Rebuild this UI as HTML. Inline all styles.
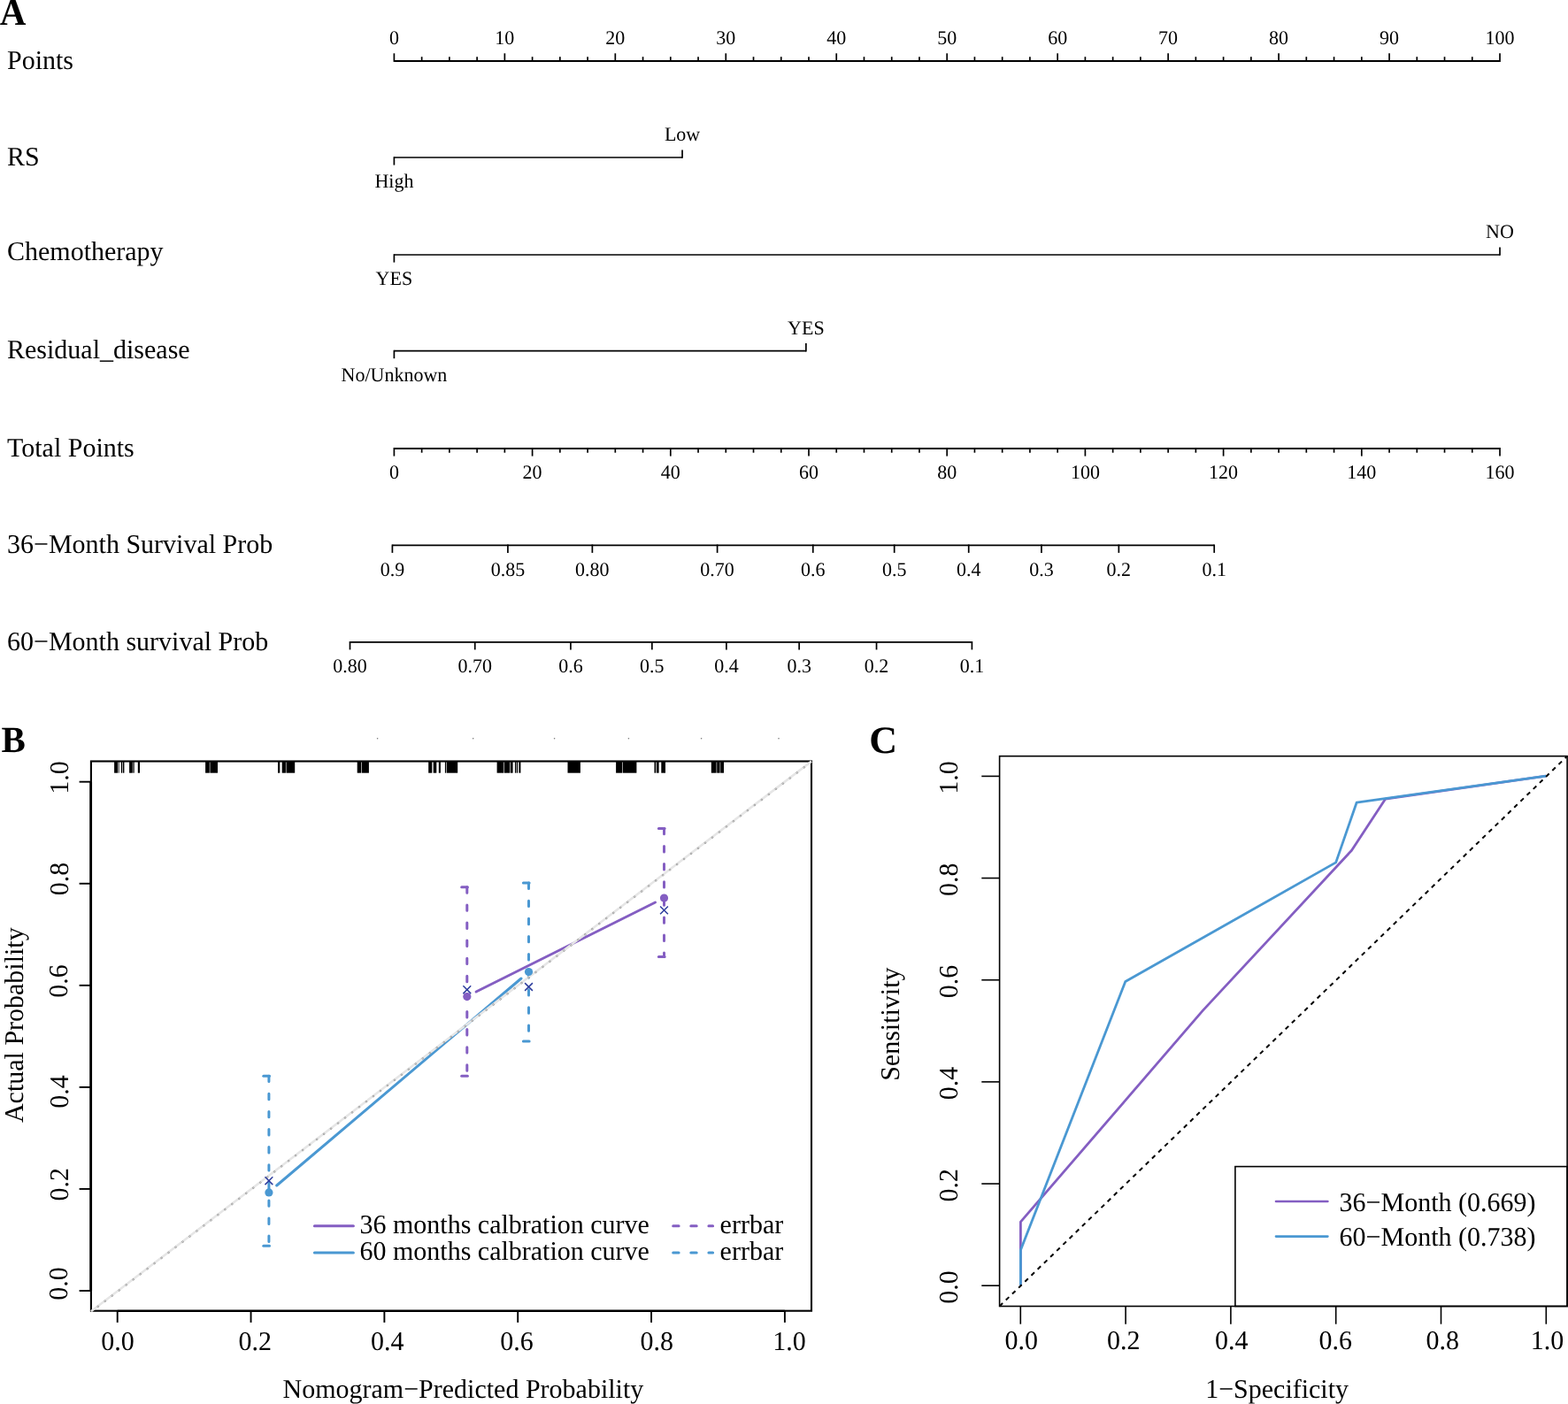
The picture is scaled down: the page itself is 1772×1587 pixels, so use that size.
<!DOCTYPE html>
<html lang="en">
<head>
<meta charset="utf-8">
<title>Nomogram, calibration curve and ROC curve</title>
<style>
html,body{margin:0;padding:0;background:#ffffff;}
body{width:1772px;height:1587px;overflow:hidden;}
svg{display:block;}
svg text{font-family:"Liberation Serif","Times New Roman",Times,serif;fill:#000;text-rendering:geometricPrecision;}
</style>
</head>
<body>
<svg width="1772" height="1587" viewBox="0 0 1772 1587">
<rect x="0" y="0" width="1772" height="1587" fill="#ffffff"/>
<g id="panelA">
<text transform="translate(-0.20 27.90) scale(1.000 1.040)" font-size="41" font-weight="bold" >A</text>
<line x1="445.40" y1="68.90" x2="1695.00" y2="68.90" stroke="#000" stroke-width="2.0" />
<line x1="445.40" y1="69.90" x2="445.40" y2="60.30" stroke="#000" stroke-width="1.7" />
<text transform="translate(445.40 50.20) scale(1.000 1.012)" font-size="22" text-anchor="middle" >0</text>
<line x1="476.64" y1="69.90" x2="476.64" y2="64.20" stroke="#000" stroke-width="1.7" />
<line x1="507.88" y1="69.90" x2="507.88" y2="64.20" stroke="#000" stroke-width="1.7" />
<line x1="539.12" y1="69.90" x2="539.12" y2="64.20" stroke="#000" stroke-width="1.7" />
<line x1="570.36" y1="69.90" x2="570.36" y2="60.30" stroke="#000" stroke-width="1.7" />
<text transform="translate(570.36 50.20) scale(1.000 1.012)" font-size="22" text-anchor="middle" >10</text>
<line x1="601.60" y1="69.90" x2="601.60" y2="64.20" stroke="#000" stroke-width="1.7" />
<line x1="632.84" y1="69.90" x2="632.84" y2="64.20" stroke="#000" stroke-width="1.7" />
<line x1="664.08" y1="69.90" x2="664.08" y2="64.20" stroke="#000" stroke-width="1.7" />
<line x1="695.32" y1="69.90" x2="695.32" y2="60.30" stroke="#000" stroke-width="1.7" />
<text transform="translate(695.32 50.20) scale(1.000 1.012)" font-size="22" text-anchor="middle" >20</text>
<line x1="726.56" y1="69.90" x2="726.56" y2="64.20" stroke="#000" stroke-width="1.7" />
<line x1="757.80" y1="69.90" x2="757.80" y2="64.20" stroke="#000" stroke-width="1.7" />
<line x1="789.04" y1="69.90" x2="789.04" y2="64.20" stroke="#000" stroke-width="1.7" />
<line x1="820.28" y1="69.90" x2="820.28" y2="60.30" stroke="#000" stroke-width="1.7" />
<text transform="translate(820.28 50.20) scale(1.000 1.012)" font-size="22" text-anchor="middle" >30</text>
<line x1="851.52" y1="69.90" x2="851.52" y2="64.20" stroke="#000" stroke-width="1.7" />
<line x1="882.76" y1="69.90" x2="882.76" y2="64.20" stroke="#000" stroke-width="1.7" />
<line x1="914.00" y1="69.90" x2="914.00" y2="64.20" stroke="#000" stroke-width="1.7" />
<line x1="945.24" y1="69.90" x2="945.24" y2="60.30" stroke="#000" stroke-width="1.7" />
<text transform="translate(945.24 50.20) scale(1.000 1.012)" font-size="22" text-anchor="middle" >40</text>
<line x1="976.48" y1="69.90" x2="976.48" y2="64.20" stroke="#000" stroke-width="1.7" />
<line x1="1007.72" y1="69.90" x2="1007.72" y2="64.20" stroke="#000" stroke-width="1.7" />
<line x1="1038.96" y1="69.90" x2="1038.96" y2="64.20" stroke="#000" stroke-width="1.7" />
<line x1="1070.20" y1="69.90" x2="1070.20" y2="60.30" stroke="#000" stroke-width="1.7" />
<text transform="translate(1070.20 50.20) scale(1.000 1.012)" font-size="22" text-anchor="middle" >50</text>
<line x1="1101.44" y1="69.90" x2="1101.44" y2="64.20" stroke="#000" stroke-width="1.7" />
<line x1="1132.68" y1="69.90" x2="1132.68" y2="64.20" stroke="#000" stroke-width="1.7" />
<line x1="1163.92" y1="69.90" x2="1163.92" y2="64.20" stroke="#000" stroke-width="1.7" />
<line x1="1195.16" y1="69.90" x2="1195.16" y2="60.30" stroke="#000" stroke-width="1.7" />
<text transform="translate(1195.16 50.20) scale(1.000 1.012)" font-size="22" text-anchor="middle" >60</text>
<line x1="1226.40" y1="69.90" x2="1226.40" y2="64.20" stroke="#000" stroke-width="1.7" />
<line x1="1257.64" y1="69.90" x2="1257.64" y2="64.20" stroke="#000" stroke-width="1.7" />
<line x1="1288.88" y1="69.90" x2="1288.88" y2="64.20" stroke="#000" stroke-width="1.7" />
<line x1="1320.12" y1="69.90" x2="1320.12" y2="60.30" stroke="#000" stroke-width="1.7" />
<text transform="translate(1320.12 50.20) scale(1.000 1.012)" font-size="22" text-anchor="middle" >70</text>
<line x1="1351.36" y1="69.90" x2="1351.36" y2="64.20" stroke="#000" stroke-width="1.7" />
<line x1="1382.60" y1="69.90" x2="1382.60" y2="64.20" stroke="#000" stroke-width="1.7" />
<line x1="1413.84" y1="69.90" x2="1413.84" y2="64.20" stroke="#000" stroke-width="1.7" />
<line x1="1445.08" y1="69.90" x2="1445.08" y2="60.30" stroke="#000" stroke-width="1.7" />
<text transform="translate(1445.08 50.20) scale(1.000 1.012)" font-size="22" text-anchor="middle" >80</text>
<line x1="1476.32" y1="69.90" x2="1476.32" y2="64.20" stroke="#000" stroke-width="1.7" />
<line x1="1507.56" y1="69.90" x2="1507.56" y2="64.20" stroke="#000" stroke-width="1.7" />
<line x1="1538.80" y1="69.90" x2="1538.80" y2="64.20" stroke="#000" stroke-width="1.7" />
<line x1="1570.04" y1="69.90" x2="1570.04" y2="60.30" stroke="#000" stroke-width="1.7" />
<text transform="translate(1570.04 50.20) scale(1.000 1.012)" font-size="22" text-anchor="middle" >90</text>
<line x1="1601.28" y1="69.90" x2="1601.28" y2="64.20" stroke="#000" stroke-width="1.7" />
<line x1="1632.52" y1="69.90" x2="1632.52" y2="64.20" stroke="#000" stroke-width="1.7" />
<line x1="1663.76" y1="69.90" x2="1663.76" y2="64.20" stroke="#000" stroke-width="1.7" />
<line x1="1695.00" y1="69.90" x2="1695.00" y2="60.30" stroke="#000" stroke-width="1.7" />
<text transform="translate(1695.00 50.20) scale(1.000 1.012)" font-size="22" text-anchor="middle" >100</text>
<text transform="translate(8.00 78.00) scale(1.000 1.012)" font-size="30" >Points</text>
<line x1="445.40" y1="178.00" x2="771.05" y2="178.00" stroke="#000" stroke-width="1.7" />
<line x1="445.40" y1="177.20" x2="445.40" y2="186.60" stroke="#000" stroke-width="1.7" />
<line x1="771.05" y1="178.80" x2="771.05" y2="169.40" stroke="#000" stroke-width="1.7" />
<text transform="translate(445.40 212.20) scale(1.000 1.012)" font-size="22" text-anchor="middle" >High</text>
<text transform="translate(771.05 159.30) scale(1.000 1.012)" font-size="22" text-anchor="middle" >Low</text>
<text transform="translate(8.00 187.20) scale(1.000 1.012)" font-size="30" >RS</text>
<line x1="445.40" y1="288.00" x2="1695.00" y2="288.00" stroke="#000" stroke-width="1.7" />
<line x1="445.40" y1="287.20" x2="445.40" y2="296.60" stroke="#000" stroke-width="1.7" />
<line x1="1695.00" y1="288.80" x2="1695.00" y2="279.40" stroke="#000" stroke-width="1.7" />
<text transform="translate(445.40 322.20) scale(1.000 1.012)" font-size="22" text-anchor="middle" >YES</text>
<text transform="translate(1695.00 269.30) scale(1.000 1.012)" font-size="22" text-anchor="middle" >NO</text>
<text transform="translate(8.00 294.30) scale(1.000 1.012)" font-size="30" >Chemotherapy</text>
<line x1="445.40" y1="396.60" x2="910.88" y2="396.60" stroke="#000" stroke-width="1.7" />
<line x1="445.40" y1="395.80" x2="445.40" y2="405.20" stroke="#000" stroke-width="1.7" />
<line x1="910.88" y1="397.40" x2="910.88" y2="388.00" stroke="#000" stroke-width="1.7" />
<text transform="translate(445.40 431.40) scale(1.000 1.012)" font-size="22" text-anchor="middle" >No/Unknown</text>
<text transform="translate(910.88 377.90) scale(1.000 1.012)" font-size="22" text-anchor="middle" >YES</text>
<text transform="translate(8.00 405.30) scale(1.000 1.012)" font-size="30" >Residual_disease</text>
<line x1="445.40" y1="507.00" x2="1695.00" y2="507.00" stroke="#000" stroke-width="2.0" />
<line x1="445.40" y1="506.00" x2="445.40" y2="515.60" stroke="#000" stroke-width="1.7" />
<text transform="translate(445.40 541.20) scale(1.000 1.012)" font-size="22" text-anchor="middle" >0</text>
<line x1="476.64" y1="506.00" x2="476.64" y2="511.70" stroke="#000" stroke-width="1.7" />
<line x1="507.88" y1="506.00" x2="507.88" y2="511.70" stroke="#000" stroke-width="1.7" />
<line x1="539.12" y1="506.00" x2="539.12" y2="511.70" stroke="#000" stroke-width="1.7" />
<line x1="570.36" y1="506.00" x2="570.36" y2="511.70" stroke="#000" stroke-width="1.7" />
<line x1="601.60" y1="506.00" x2="601.60" y2="515.60" stroke="#000" stroke-width="1.7" />
<text transform="translate(601.60 541.20) scale(1.000 1.012)" font-size="22" text-anchor="middle" >20</text>
<line x1="632.84" y1="506.00" x2="632.84" y2="511.70" stroke="#000" stroke-width="1.7" />
<line x1="664.08" y1="506.00" x2="664.08" y2="511.70" stroke="#000" stroke-width="1.7" />
<line x1="695.32" y1="506.00" x2="695.32" y2="511.70" stroke="#000" stroke-width="1.7" />
<line x1="726.56" y1="506.00" x2="726.56" y2="511.70" stroke="#000" stroke-width="1.7" />
<line x1="757.80" y1="506.00" x2="757.80" y2="515.60" stroke="#000" stroke-width="1.7" />
<text transform="translate(757.80 541.20) scale(1.000 1.012)" font-size="22" text-anchor="middle" >40</text>
<line x1="789.04" y1="506.00" x2="789.04" y2="511.70" stroke="#000" stroke-width="1.7" />
<line x1="820.28" y1="506.00" x2="820.28" y2="511.70" stroke="#000" stroke-width="1.7" />
<line x1="851.52" y1="506.00" x2="851.52" y2="511.70" stroke="#000" stroke-width="1.7" />
<line x1="882.76" y1="506.00" x2="882.76" y2="511.70" stroke="#000" stroke-width="1.7" />
<line x1="914.00" y1="506.00" x2="914.00" y2="515.60" stroke="#000" stroke-width="1.7" />
<text transform="translate(914.00 541.20) scale(1.000 1.012)" font-size="22" text-anchor="middle" >60</text>
<line x1="945.24" y1="506.00" x2="945.24" y2="511.70" stroke="#000" stroke-width="1.7" />
<line x1="976.48" y1="506.00" x2="976.48" y2="511.70" stroke="#000" stroke-width="1.7" />
<line x1="1007.72" y1="506.00" x2="1007.72" y2="511.70" stroke="#000" stroke-width="1.7" />
<line x1="1038.96" y1="506.00" x2="1038.96" y2="511.70" stroke="#000" stroke-width="1.7" />
<line x1="1070.20" y1="506.00" x2="1070.20" y2="515.60" stroke="#000" stroke-width="1.7" />
<text transform="translate(1070.20 541.20) scale(1.000 1.012)" font-size="22" text-anchor="middle" >80</text>
<line x1="1101.44" y1="506.00" x2="1101.44" y2="511.70" stroke="#000" stroke-width="1.7" />
<line x1="1132.68" y1="506.00" x2="1132.68" y2="511.70" stroke="#000" stroke-width="1.7" />
<line x1="1163.92" y1="506.00" x2="1163.92" y2="511.70" stroke="#000" stroke-width="1.7" />
<line x1="1195.16" y1="506.00" x2="1195.16" y2="511.70" stroke="#000" stroke-width="1.7" />
<line x1="1226.40" y1="506.00" x2="1226.40" y2="515.60" stroke="#000" stroke-width="1.7" />
<text transform="translate(1226.40 541.20) scale(1.000 1.012)" font-size="22" text-anchor="middle" >100</text>
<line x1="1257.64" y1="506.00" x2="1257.64" y2="511.70" stroke="#000" stroke-width="1.7" />
<line x1="1288.88" y1="506.00" x2="1288.88" y2="511.70" stroke="#000" stroke-width="1.7" />
<line x1="1320.12" y1="506.00" x2="1320.12" y2="511.70" stroke="#000" stroke-width="1.7" />
<line x1="1351.36" y1="506.00" x2="1351.36" y2="511.70" stroke="#000" stroke-width="1.7" />
<line x1="1382.60" y1="506.00" x2="1382.60" y2="515.60" stroke="#000" stroke-width="1.7" />
<text transform="translate(1382.60 541.20) scale(1.000 1.012)" font-size="22" text-anchor="middle" >120</text>
<line x1="1413.84" y1="506.00" x2="1413.84" y2="511.70" stroke="#000" stroke-width="1.7" />
<line x1="1445.08" y1="506.00" x2="1445.08" y2="511.70" stroke="#000" stroke-width="1.7" />
<line x1="1476.32" y1="506.00" x2="1476.32" y2="511.70" stroke="#000" stroke-width="1.7" />
<line x1="1507.56" y1="506.00" x2="1507.56" y2="511.70" stroke="#000" stroke-width="1.7" />
<line x1="1538.80" y1="506.00" x2="1538.80" y2="515.60" stroke="#000" stroke-width="1.7" />
<text transform="translate(1538.80 541.20) scale(1.000 1.012)" font-size="22" text-anchor="middle" >140</text>
<line x1="1570.04" y1="506.00" x2="1570.04" y2="511.70" stroke="#000" stroke-width="1.7" />
<line x1="1601.28" y1="506.00" x2="1601.28" y2="511.70" stroke="#000" stroke-width="1.7" />
<line x1="1632.52" y1="506.00" x2="1632.52" y2="511.70" stroke="#000" stroke-width="1.7" />
<line x1="1663.76" y1="506.00" x2="1663.76" y2="511.70" stroke="#000" stroke-width="1.7" />
<line x1="1695.00" y1="506.00" x2="1695.00" y2="515.60" stroke="#000" stroke-width="1.7" />
<text transform="translate(1695.00 541.20) scale(1.000 1.012)" font-size="22" text-anchor="middle" >160</text>
<text transform="translate(8.00 515.80) scale(1.000 1.012)" font-size="30" >Total Points</text>
<line x1="443.40" y1="616.30" x2="1372.20" y2="616.30" stroke="#000" stroke-width="1.7" />
<line x1="443.40" y1="615.50" x2="443.40" y2="624.90" stroke="#000" stroke-width="1.7" />
<text transform="translate(443.40 650.50) scale(1.000 1.012)" font-size="22" text-anchor="middle" >0.9</text>
<line x1="573.91" y1="615.50" x2="573.91" y2="624.90" stroke="#000" stroke-width="1.7" />
<text transform="translate(573.91 650.50) scale(1.000 1.012)" font-size="22" text-anchor="middle" >0.85</text>
<line x1="669.37" y1="615.50" x2="669.37" y2="624.90" stroke="#000" stroke-width="1.7" />
<text transform="translate(669.37 650.50) scale(1.000 1.012)" font-size="22" text-anchor="middle" >0.80</text>
<line x1="810.61" y1="615.50" x2="810.61" y2="624.90" stroke="#000" stroke-width="1.7" />
<text transform="translate(810.61 650.50) scale(1.000 1.012)" font-size="22" text-anchor="middle" >0.70</text>
<line x1="918.77" y1="615.50" x2="918.77" y2="624.90" stroke="#000" stroke-width="1.7" />
<text transform="translate(918.77 650.50) scale(1.000 1.012)" font-size="22" text-anchor="middle" >0.6</text>
<line x1="1010.68" y1="615.50" x2="1010.68" y2="624.90" stroke="#000" stroke-width="1.7" />
<text transform="translate(1010.68 650.50) scale(1.000 1.012)" font-size="22" text-anchor="middle" >0.5</text>
<line x1="1094.72" y1="615.50" x2="1094.72" y2="624.90" stroke="#000" stroke-width="1.7" />
<text transform="translate(1094.72 650.50) scale(1.000 1.012)" font-size="22" text-anchor="middle" >0.4</text>
<line x1="1176.95" y1="615.50" x2="1176.95" y2="624.90" stroke="#000" stroke-width="1.7" />
<text transform="translate(1176.95 650.50) scale(1.000 1.012)" font-size="22" text-anchor="middle" >0.3</text>
<line x1="1264.35" y1="615.50" x2="1264.35" y2="624.90" stroke="#000" stroke-width="1.7" />
<text transform="translate(1264.35 650.50) scale(1.000 1.012)" font-size="22" text-anchor="middle" >0.2</text>
<line x1="1372.20" y1="615.50" x2="1372.20" y2="624.90" stroke="#000" stroke-width="1.7" />
<text transform="translate(1372.20 650.50) scale(1.000 1.012)" font-size="22" text-anchor="middle" >0.1</text>
<text transform="translate(8.00 625.00) scale(1.000 1.012)" font-size="30" >36−Month Survival Prob</text>
<line x1="395.50" y1="725.80" x2="1098.40" y2="725.80" stroke="#000" stroke-width="1.7" />
<line x1="395.50" y1="725.00" x2="395.50" y2="734.40" stroke="#000" stroke-width="1.7" />
<text transform="translate(395.50 760.40) scale(1.000 1.012)" font-size="22" text-anchor="middle" >0.80</text>
<line x1="536.75" y1="725.00" x2="536.75" y2="734.40" stroke="#000" stroke-width="1.7" />
<text transform="translate(536.75 760.40) scale(1.000 1.012)" font-size="22" text-anchor="middle" >0.70</text>
<line x1="644.92" y1="725.00" x2="644.92" y2="734.40" stroke="#000" stroke-width="1.7" />
<text transform="translate(644.92 760.40) scale(1.000 1.012)" font-size="22" text-anchor="middle" >0.6</text>
<line x1="736.84" y1="725.00" x2="736.84" y2="734.40" stroke="#000" stroke-width="1.7" />
<text transform="translate(736.84 760.40) scale(1.000 1.012)" font-size="22" text-anchor="middle" >0.5</text>
<line x1="820.89" y1="725.00" x2="820.89" y2="734.40" stroke="#000" stroke-width="1.7" />
<text transform="translate(820.89 760.40) scale(1.000 1.012)" font-size="22" text-anchor="middle" >0.4</text>
<line x1="903.13" y1="725.00" x2="903.13" y2="734.40" stroke="#000" stroke-width="1.7" />
<text transform="translate(903.13 760.40) scale(1.000 1.012)" font-size="22" text-anchor="middle" >0.3</text>
<line x1="990.54" y1="725.00" x2="990.54" y2="734.40" stroke="#000" stroke-width="1.7" />
<text transform="translate(990.54 760.40) scale(1.000 1.012)" font-size="22" text-anchor="middle" >0.2</text>
<line x1="1098.40" y1="725.00" x2="1098.40" y2="734.40" stroke="#000" stroke-width="1.7" />
<text transform="translate(1098.40 760.40) scale(1.000 1.012)" font-size="22" text-anchor="middle" >0.1</text>
<text transform="translate(8.00 735.00) scale(1.000 1.012)" font-size="30" >60−Month survival Prob</text>
</g>
<g id="panelB">
<text transform="translate(1.50 849.90) scale(1.000 1.012)" font-size="41" font-weight="bold" >B</text>
<circle cx="426.6" cy="834.8" r="0.8" fill="#777"/>
<circle cx="534.7" cy="834.8" r="0.8" fill="#777"/>
<circle cx="626.6" cy="834.8" r="0.8" fill="#777"/>
<circle cx="710.4" cy="834.8" r="0.8" fill="#777"/>
<circle cx="792.6" cy="834.8" r="0.8" fill="#777"/>
<circle cx="880.0" cy="834.8" r="0.8" fill="#777"/>
<rect x="129.10" y="860.50" width="4.10" height="13.20" fill="#000"/>
<rect x="133.80" y="860.50" width="0.80" height="13.20" fill="#000"/>
<rect x="136.80" y="860.50" width="1.40" height="13.20" fill="#000"/>
<rect x="138.90" y="860.50" width="1.50" height="13.20" fill="#000"/>
<rect x="146.10" y="860.50" width="3.70" height="13.20" fill="#000"/>
<rect x="150.40" y="860.50" width="1.30" height="13.20" fill="#000"/>
<rect x="155.80" y="860.50" width="2.20" height="13.20" fill="#000"/>
<rect x="232.10" y="860.50" width="4.70" height="13.20" fill="#000"/>
<rect x="237.40" y="860.50" width="8.60" height="13.20" fill="#000"/>
<rect x="314.00" y="860.50" width="2.30" height="13.20" fill="#000"/>
<rect x="318.70" y="860.50" width="4.20" height="13.20" fill="#000"/>
<rect x="323.50" y="860.50" width="9.70" height="13.20" fill="#000"/>
<rect x="403.70" y="860.50" width="4.40" height="13.20" fill="#000"/>
<rect x="408.70" y="860.50" width="8.20" height="13.20" fill="#000"/>
<rect x="484.20" y="860.50" width="4.10" height="13.20" fill="#000"/>
<rect x="489.70" y="860.50" width="3.60" height="13.20" fill="#000"/>
<rect x="495.80" y="860.50" width="2.10" height="13.20" fill="#000"/>
<rect x="502.90" y="860.50" width="1.40" height="13.20" fill="#000"/>
<rect x="504.90" y="860.50" width="12.30" height="13.20" fill="#000"/>
<rect x="561.60" y="860.50" width="7.60" height="13.20" fill="#000"/>
<rect x="569.80" y="860.50" width="6.40" height="13.20" fill="#000"/>
<rect x="576.80" y="860.50" width="2.80" height="13.20" fill="#000"/>
<rect x="581.90" y="860.50" width="1.30" height="13.20" fill="#000"/>
<rect x="583.80" y="860.50" width="1.30" height="13.20" fill="#000"/>
<rect x="586.40" y="860.50" width="2.00" height="13.20" fill="#000"/>
<rect x="641.50" y="860.50" width="14.40" height="13.20" fill="#000"/>
<rect x="696.10" y="860.50" width="6.90" height="13.20" fill="#000"/>
<rect x="703.60" y="860.50" width="15.80" height="13.20" fill="#000"/>
<rect x="739.50" y="860.50" width="1.80" height="13.20" fill="#000"/>
<rect x="742.10" y="860.50" width="2.50" height="13.20" fill="#000"/>
<rect x="747.30" y="860.50" width="4.70" height="13.20" fill="#000"/>
<rect x="803.80" y="860.50" width="5.80" height="13.20" fill="#000"/>
<rect x="810.20" y="860.50" width="3.40" height="13.20" fill="#000"/>
<rect x="814.20" y="860.50" width="3.80" height="13.20" fill="#000"/>
<rect x="102.9" y="860.5" width="814.10" height="621.20" fill="none" stroke="#000" stroke-width="2.1"/>
<line x1="102.65" y1="883.70" x2="102.65" y2="1459.00" stroke="#000" stroke-width="2.8" />
<line x1="132.70" y1="1481.85" x2="886.90" y2="1481.85" stroke="#000" stroke-width="2.15" />
<line x1="132.70" y1="1481.70" x2="132.70" y2="1494.90" stroke="#000" stroke-width="1.9" />
<line x1="102.90" y1="1459.00" x2="89.60" y2="1459.00" stroke="#000" stroke-width="1.9" />
<line x1="283.54" y1="1481.70" x2="283.54" y2="1494.90" stroke="#000" stroke-width="1.9" />
<line x1="102.90" y1="1343.94" x2="89.60" y2="1343.94" stroke="#000" stroke-width="1.9" />
<line x1="434.38" y1="1481.70" x2="434.38" y2="1494.90" stroke="#000" stroke-width="1.9" />
<line x1="102.90" y1="1228.88" x2="89.60" y2="1228.88" stroke="#000" stroke-width="1.9" />
<line x1="585.22" y1="1481.70" x2="585.22" y2="1494.90" stroke="#000" stroke-width="1.9" />
<line x1="102.90" y1="1113.82" x2="89.60" y2="1113.82" stroke="#000" stroke-width="1.9" />
<line x1="736.06" y1="1481.70" x2="736.06" y2="1494.90" stroke="#000" stroke-width="1.9" />
<line x1="102.90" y1="998.76" x2="89.60" y2="998.76" stroke="#000" stroke-width="1.9" />
<line x1="886.90" y1="1481.70" x2="886.90" y2="1494.90" stroke="#000" stroke-width="1.9" />
<line x1="102.90" y1="883.70" x2="89.60" y2="883.70" stroke="#000" stroke-width="1.9" />
<line x1="303.9" y1="1216.2" x2="303.9" y2="1408.3" stroke="#4a98d2" stroke-width="3" stroke-dasharray="6.4 13.7" stroke-linecap="round"/>
<line x1="297.80" y1="1216.2" x2="304.50" y2="1216.2" stroke="#4a98d2" stroke-width="3" stroke-linecap="round"/>
<line x1="297.80" y1="1408.3" x2="304.50" y2="1408.3" stroke="#4a98d2" stroke-width="3" stroke-linecap="round"/>
<line x1="597.5" y1="998.1" x2="597.5" y2="1177.0" stroke="#4a98d2" stroke-width="3" stroke-dasharray="6.4 13.7" stroke-linecap="round"/>
<line x1="591.40" y1="998.1" x2="598.10" y2="998.1" stroke="#4a98d2" stroke-width="3" stroke-linecap="round"/>
<line x1="591.40" y1="1177.0" x2="598.10" y2="1177.0" stroke="#4a98d2" stroke-width="3" stroke-linecap="round"/>
<line x1="527.8" y1="1002.8" x2="527.8" y2="1216.3" stroke="#845ec2" stroke-width="3" stroke-dasharray="6.4 13.7" stroke-linecap="round"/>
<line x1="521.70" y1="1002.8" x2="528.40" y2="1002.8" stroke="#845ec2" stroke-width="3" stroke-linecap="round"/>
<line x1="521.70" y1="1216.3" x2="528.40" y2="1216.3" stroke="#845ec2" stroke-width="3" stroke-linecap="round"/>
<line x1="750.5" y1="936.4" x2="750.5" y2="1081.6" stroke="#845ec2" stroke-width="3" stroke-dasharray="6.4 13.7" stroke-linecap="round"/>
<line x1="744.40" y1="936.4" x2="751.10" y2="936.4" stroke="#845ec2" stroke-width="3" stroke-linecap="round"/>
<line x1="744.40" y1="1081.6" x2="751.10" y2="1081.6" stroke="#845ec2" stroke-width="3" stroke-linecap="round"/>
<line x1="538.1" y1="1121.0" x2="740.5" y2="1020.0" stroke="#845ec2" stroke-width="3" stroke-linecap="round"/>
<line x1="312.7" y1="1340.0" x2="589.0" y2="1106.0" stroke="#4a98d2" stroke-width="3" stroke-linecap="round"/>
<line x1="102.9" y1="1482.30" x2="917.0" y2="860.60" stroke="#e6e6e6" stroke-width="2.6"/>
<circle cx="110.75" cy="1476.80" r="0.9" fill="#f6f6f6" stroke="#606060" stroke-width="0.5"/>
<circle cx="118.73" cy="1470.70" r="0.9" fill="#f6f6f6" stroke="#606060" stroke-width="0.5"/>
<circle cx="126.71" cy="1464.61" r="0.9" fill="#f6f6f6" stroke="#606060" stroke-width="0.5"/>
<circle cx="134.69" cy="1458.51" r="0.9" fill="#f6f6f6" stroke="#606060" stroke-width="0.5"/>
<circle cx="142.67" cy="1452.42" r="0.9" fill="#f6f6f6" stroke="#606060" stroke-width="0.5"/>
<circle cx="150.65" cy="1446.33" r="0.9" fill="#f6f6f6" stroke="#606060" stroke-width="0.5"/>
<circle cx="158.63" cy="1440.23" r="0.9" fill="#f6f6f6" stroke="#606060" stroke-width="0.5"/>
<circle cx="166.61" cy="1434.14" r="0.9" fill="#f6f6f6" stroke="#606060" stroke-width="0.5"/>
<circle cx="174.59" cy="1428.04" r="0.9" fill="#f6f6f6" stroke="#606060" stroke-width="0.5"/>
<circle cx="182.57" cy="1421.95" r="0.9" fill="#f6f6f6" stroke="#606060" stroke-width="0.5"/>
<circle cx="190.55" cy="1415.86" r="0.9" fill="#f6f6f6" stroke="#606060" stroke-width="0.5"/>
<circle cx="198.53" cy="1409.76" r="0.9" fill="#f6f6f6" stroke="#606060" stroke-width="0.5"/>
<circle cx="206.51" cy="1403.67" r="0.9" fill="#f6f6f6" stroke="#606060" stroke-width="0.5"/>
<circle cx="214.49" cy="1397.57" r="0.9" fill="#f6f6f6" stroke="#606060" stroke-width="0.5"/>
<circle cx="222.47" cy="1391.48" r="0.9" fill="#f6f6f6" stroke="#606060" stroke-width="0.5"/>
<circle cx="230.45" cy="1385.39" r="0.9" fill="#f6f6f6" stroke="#606060" stroke-width="0.5"/>
<circle cx="238.43" cy="1379.29" r="0.9" fill="#f6f6f6" stroke="#606060" stroke-width="0.5"/>
<circle cx="246.41" cy="1373.20" r="0.9" fill="#f6f6f6" stroke="#606060" stroke-width="0.5"/>
<circle cx="254.39" cy="1367.10" r="0.9" fill="#f6f6f6" stroke="#606060" stroke-width="0.5"/>
<circle cx="262.37" cy="1361.01" r="0.9" fill="#f6f6f6" stroke="#606060" stroke-width="0.5"/>
<circle cx="270.35" cy="1354.92" r="0.9" fill="#f6f6f6" stroke="#606060" stroke-width="0.5"/>
<circle cx="278.33" cy="1348.82" r="0.9" fill="#f6f6f6" stroke="#606060" stroke-width="0.5"/>
<circle cx="286.31" cy="1342.73" r="0.9" fill="#f6f6f6" stroke="#606060" stroke-width="0.5"/>
<circle cx="294.29" cy="1336.63" r="0.9" fill="#f6f6f6" stroke="#606060" stroke-width="0.5"/>
<circle cx="302.27" cy="1330.54" r="0.9" fill="#f6f6f6" stroke="#606060" stroke-width="0.5"/>
<circle cx="310.25" cy="1324.44" r="0.9" fill="#f6f6f6" stroke="#606060" stroke-width="0.5"/>
<circle cx="318.23" cy="1318.35" r="0.9" fill="#f6f6f6" stroke="#606060" stroke-width="0.5"/>
<circle cx="326.21" cy="1312.26" r="0.9" fill="#f6f6f6" stroke="#606060" stroke-width="0.5"/>
<circle cx="334.19" cy="1306.16" r="0.9" fill="#f6f6f6" stroke="#606060" stroke-width="0.5"/>
<circle cx="342.17" cy="1300.07" r="0.9" fill="#f6f6f6" stroke="#606060" stroke-width="0.5"/>
<circle cx="350.15" cy="1293.97" r="0.9" fill="#f6f6f6" stroke="#606060" stroke-width="0.5"/>
<circle cx="358.13" cy="1287.88" r="0.9" fill="#f6f6f6" stroke="#606060" stroke-width="0.5"/>
<circle cx="366.11" cy="1281.79" r="0.9" fill="#f6f6f6" stroke="#606060" stroke-width="0.5"/>
<circle cx="374.09" cy="1275.69" r="0.9" fill="#f6f6f6" stroke="#606060" stroke-width="0.5"/>
<circle cx="382.07" cy="1269.60" r="0.9" fill="#f6f6f6" stroke="#606060" stroke-width="0.5"/>
<circle cx="390.05" cy="1263.50" r="0.9" fill="#f6f6f6" stroke="#606060" stroke-width="0.5"/>
<circle cx="398.03" cy="1257.41" r="0.9" fill="#f6f6f6" stroke="#606060" stroke-width="0.5"/>
<circle cx="406.01" cy="1251.32" r="0.9" fill="#f6f6f6" stroke="#606060" stroke-width="0.5"/>
<circle cx="413.99" cy="1245.22" r="0.9" fill="#f6f6f6" stroke="#606060" stroke-width="0.5"/>
<circle cx="421.97" cy="1239.13" r="0.9" fill="#f6f6f6" stroke="#606060" stroke-width="0.5"/>
<circle cx="429.95" cy="1233.03" r="0.9" fill="#f6f6f6" stroke="#606060" stroke-width="0.5"/>
<circle cx="437.93" cy="1226.94" r="0.9" fill="#f6f6f6" stroke="#606060" stroke-width="0.5"/>
<circle cx="445.91" cy="1220.85" r="0.9" fill="#f6f6f6" stroke="#606060" stroke-width="0.5"/>
<circle cx="453.89" cy="1214.75" r="0.9" fill="#f6f6f6" stroke="#606060" stroke-width="0.5"/>
<circle cx="461.87" cy="1208.66" r="0.9" fill="#f6f6f6" stroke="#606060" stroke-width="0.5"/>
<circle cx="469.85" cy="1202.56" r="0.9" fill="#f6f6f6" stroke="#606060" stroke-width="0.5"/>
<circle cx="477.83" cy="1196.47" r="0.9" fill="#f6f6f6" stroke="#606060" stroke-width="0.5"/>
<circle cx="485.81" cy="1190.38" r="0.9" fill="#f6f6f6" stroke="#606060" stroke-width="0.5"/>
<circle cx="493.79" cy="1184.28" r="0.9" fill="#f6f6f6" stroke="#606060" stroke-width="0.5"/>
<circle cx="501.77" cy="1178.19" r="0.9" fill="#f6f6f6" stroke="#606060" stroke-width="0.5"/>
<circle cx="509.75" cy="1172.09" r="0.9" fill="#f6f6f6" stroke="#606060" stroke-width="0.5"/>
<circle cx="517.73" cy="1166.00" r="0.9" fill="#f6f6f6" stroke="#606060" stroke-width="0.5"/>
<circle cx="525.71" cy="1159.91" r="0.9" fill="#f6f6f6" stroke="#606060" stroke-width="0.5"/>
<circle cx="533.69" cy="1153.81" r="0.9" fill="#f6f6f6" stroke="#606060" stroke-width="0.5"/>
<circle cx="541.67" cy="1147.72" r="0.9" fill="#f6f6f6" stroke="#606060" stroke-width="0.5"/>
<circle cx="549.65" cy="1141.62" r="0.9" fill="#f6f6f6" stroke="#606060" stroke-width="0.5"/>
<circle cx="557.63" cy="1135.53" r="0.9" fill="#f6f6f6" stroke="#606060" stroke-width="0.5"/>
<circle cx="565.61" cy="1129.44" r="0.9" fill="#f6f6f6" stroke="#606060" stroke-width="0.5"/>
<circle cx="573.59" cy="1123.34" r="0.9" fill="#f6f6f6" stroke="#606060" stroke-width="0.5"/>
<circle cx="581.57" cy="1117.25" r="0.9" fill="#f6f6f6" stroke="#606060" stroke-width="0.5"/>
<circle cx="589.55" cy="1111.15" r="0.9" fill="#f6f6f6" stroke="#606060" stroke-width="0.5"/>
<circle cx="597.53" cy="1105.06" r="0.9" fill="#f6f6f6" stroke="#606060" stroke-width="0.5"/>
<circle cx="605.51" cy="1098.97" r="0.9" fill="#f6f6f6" stroke="#606060" stroke-width="0.5"/>
<circle cx="613.49" cy="1092.87" r="0.9" fill="#f6f6f6" stroke="#606060" stroke-width="0.5"/>
<circle cx="621.47" cy="1086.78" r="0.9" fill="#f6f6f6" stroke="#606060" stroke-width="0.5"/>
<circle cx="629.45" cy="1080.68" r="0.9" fill="#f6f6f6" stroke="#606060" stroke-width="0.5"/>
<circle cx="637.43" cy="1074.59" r="0.9" fill="#f6f6f6" stroke="#606060" stroke-width="0.5"/>
<circle cx="645.41" cy="1068.49" r="0.9" fill="#f6f6f6" stroke="#606060" stroke-width="0.5"/>
<circle cx="653.39" cy="1062.40" r="0.9" fill="#f6f6f6" stroke="#606060" stroke-width="0.5"/>
<circle cx="661.37" cy="1056.31" r="0.9" fill="#f6f6f6" stroke="#606060" stroke-width="0.5"/>
<circle cx="669.35" cy="1050.21" r="0.9" fill="#f6f6f6" stroke="#606060" stroke-width="0.5"/>
<circle cx="677.33" cy="1044.12" r="0.9" fill="#f6f6f6" stroke="#606060" stroke-width="0.5"/>
<circle cx="685.31" cy="1038.02" r="0.9" fill="#f6f6f6" stroke="#606060" stroke-width="0.5"/>
<circle cx="693.29" cy="1031.93" r="0.9" fill="#f6f6f6" stroke="#606060" stroke-width="0.5"/>
<circle cx="701.27" cy="1025.84" r="0.9" fill="#f6f6f6" stroke="#606060" stroke-width="0.5"/>
<circle cx="709.25" cy="1019.74" r="0.9" fill="#f6f6f6" stroke="#606060" stroke-width="0.5"/>
<circle cx="717.23" cy="1013.65" r="0.9" fill="#f6f6f6" stroke="#606060" stroke-width="0.5"/>
<circle cx="725.21" cy="1007.55" r="0.9" fill="#f6f6f6" stroke="#606060" stroke-width="0.5"/>
<circle cx="733.19" cy="1001.46" r="0.9" fill="#f6f6f6" stroke="#606060" stroke-width="0.5"/>
<circle cx="741.17" cy="995.37" r="0.9" fill="#f6f6f6" stroke="#606060" stroke-width="0.5"/>
<circle cx="749.15" cy="989.27" r="0.9" fill="#f6f6f6" stroke="#606060" stroke-width="0.5"/>
<circle cx="757.13" cy="983.18" r="0.9" fill="#f6f6f6" stroke="#606060" stroke-width="0.5"/>
<circle cx="765.11" cy="977.08" r="0.9" fill="#f6f6f6" stroke="#606060" stroke-width="0.5"/>
<circle cx="773.09" cy="970.99" r="0.9" fill="#f6f6f6" stroke="#606060" stroke-width="0.5"/>
<circle cx="781.07" cy="964.90" r="0.9" fill="#f6f6f6" stroke="#606060" stroke-width="0.5"/>
<circle cx="789.05" cy="958.80" r="0.9" fill="#f6f6f6" stroke="#606060" stroke-width="0.5"/>
<circle cx="797.03" cy="952.71" r="0.9" fill="#f6f6f6" stroke="#606060" stroke-width="0.5"/>
<circle cx="805.01" cy="946.61" r="0.9" fill="#f6f6f6" stroke="#606060" stroke-width="0.5"/>
<circle cx="812.99" cy="940.52" r="0.9" fill="#f6f6f6" stroke="#606060" stroke-width="0.5"/>
<circle cx="820.97" cy="934.43" r="0.9" fill="#f6f6f6" stroke="#606060" stroke-width="0.5"/>
<circle cx="828.95" cy="928.33" r="0.9" fill="#f6f6f6" stroke="#606060" stroke-width="0.5"/>
<circle cx="836.93" cy="922.24" r="0.9" fill="#f6f6f6" stroke="#606060" stroke-width="0.5"/>
<circle cx="844.91" cy="916.14" r="0.9" fill="#f6f6f6" stroke="#606060" stroke-width="0.5"/>
<circle cx="852.89" cy="910.05" r="0.9" fill="#f6f6f6" stroke="#606060" stroke-width="0.5"/>
<circle cx="860.87" cy="903.96" r="0.9" fill="#f6f6f6" stroke="#606060" stroke-width="0.5"/>
<circle cx="868.85" cy="897.86" r="0.9" fill="#f6f6f6" stroke="#606060" stroke-width="0.5"/>
<circle cx="876.83" cy="891.77" r="0.9" fill="#f6f6f6" stroke="#606060" stroke-width="0.5"/>
<circle cx="884.81" cy="885.67" r="0.9" fill="#f6f6f6" stroke="#606060" stroke-width="0.5"/>
<circle cx="892.79" cy="879.58" r="0.9" fill="#f6f6f6" stroke="#606060" stroke-width="0.5"/>
<circle cx="900.77" cy="873.49" r="0.9" fill="#f6f6f6" stroke="#606060" stroke-width="0.5"/>
<circle cx="908.75" cy="867.39" r="0.9" fill="#f6f6f6" stroke="#606060" stroke-width="0.5"/>
<circle cx="303.9" cy="1347.9" r="4.6" fill="#4a98d2"/>
<path d="M299.50 1330.30L308.30 1339.10M299.50 1339.10L308.30 1330.30" stroke="#2f3e9e" stroke-width="1.5" fill="none"/>
<circle cx="597.5" cy="1098.5" r="4.6" fill="#4a98d2"/>
<path d="M593.10 1111.10L601.90 1119.90M593.10 1119.90L601.90 1111.10" stroke="#2f3e9e" stroke-width="1.5" fill="none"/>
<circle cx="527.8" cy="1126.5" r="4.6" fill="#845ec2"/>
<path d="M523.40 1114.30L532.20 1123.10M523.40 1123.10L532.20 1114.30" stroke="#2f3e9e" stroke-width="1.5" fill="none"/>
<circle cx="750.5" cy="1015.0" r="4.6" fill="#845ec2"/>
<path d="M746.10 1024.50L754.90 1033.30M746.10 1033.30L754.90 1024.50" stroke="#2f3e9e" stroke-width="1.5" fill="none"/>
<text transform="translate(132.90 1526.30) scale(1.000 1.012)" font-size="30" text-anchor="middle" >0.0</text>
<text transform="translate(288.20 1526.30) scale(1.000 1.012)" font-size="30" text-anchor="middle" >0.2</text>
<text transform="translate(437.80 1526.30) scale(1.000 1.012)" font-size="30" text-anchor="middle" >0.4</text>
<text transform="translate(584.00 1526.30) scale(1.000 1.012)" font-size="30" text-anchor="middle" >0.6</text>
<text transform="translate(742.30 1526.30) scale(1.000 1.012)" font-size="30" text-anchor="middle" >0.8</text>
<text transform="translate(892.00 1526.30) scale(1.000 1.012)" font-size="30" text-anchor="middle" >1.0</text>
<text transform="translate(75.50 1451.00) rotate(-90) scale(1.000 1.012)" font-size="30" text-anchor="middle" >0.0</text>
<text transform="translate(76.90 1338.70) rotate(-90) scale(1.000 1.012)" font-size="30" text-anchor="middle" >0.2</text>
<text transform="translate(76.90 1234.00) rotate(-90) scale(1.000 1.012)" font-size="30" text-anchor="middle" >0.4</text>
<text transform="translate(75.50 1109.10) rotate(-90) scale(1.000 1.012)" font-size="30" text-anchor="middle" >0.6</text>
<text transform="translate(76.90 993.60) rotate(-90) scale(1.000 1.012)" font-size="30" text-anchor="middle" >0.8</text>
<text transform="translate(76.60 879.00) rotate(-90) scale(1.000 1.012)" font-size="30" text-anchor="middle" >1.0</text>
<text transform="translate(26.10 1158.70) rotate(-90) scale(1.000 1.012)" font-size="30" text-anchor="middle" >Actual Probability</text>
<text transform="translate(523.40 1579.50) scale(1.000 1.012)" font-size="30" text-anchor="middle" >Nomogram−Predicted Probability</text>
<line x1="355.4" y1="1385.7" x2="399.4" y2="1385.7" stroke="#845ec2" stroke-width="3" stroke-linecap="round"/>
<line x1="355.4" y1="1415.9" x2="399.4" y2="1415.9" stroke="#4a98d2" stroke-width="3" stroke-linecap="round"/>
<text transform="translate(406.50 1394.00) scale(1.000 1.012)" font-size="30" >36 months calbration curve</text>
<text transform="translate(406.50 1424.00) scale(1.000 1.012)" font-size="30" >60 months calbration curve</text>
<line x1="760.7" y1="1385.7" x2="805.6" y2="1385.7" stroke="#845ec2" stroke-width="3" stroke-dasharray="6.4 13.7" stroke-linecap="round"/>
<line x1="760.7" y1="1415.9" x2="805.6" y2="1415.9" stroke="#4a98d2" stroke-width="3" stroke-dasharray="6.4 13.7" stroke-linecap="round"/>
<text transform="translate(813.60 1394.00) scale(1.000 1.012)" font-size="30" >errbar</text>
<text transform="translate(813.60 1424.00) scale(1.000 1.012)" font-size="30" >errbar</text>
</g>
<g id="panelC">
<text transform="translate(982.30 850.60) scale(1.075 1.060)" font-size="41" font-weight="bold" >C</text>
<polyline points="1153.4,1452.7 1153.4,1381.2 1359.2,1142.4 1527.5,961.3 1565.7,903.1 1747.2,877.1" fill="none" stroke="#845ec2" stroke-width="2.8" stroke-linejoin="round" stroke-linecap="butt"/>
<polyline points="1153.4,1452.7 1153.4,1413.0 1271.8,1109.5 1509.7,974.9 1533.1,907.2 1747.2,877.1" fill="none" stroke="#4a98d2" stroke-width="2.8" stroke-linejoin="round" stroke-linecap="butt"/>
<line x1="1129.6" y1="1476.5" x2="1771.1" y2="854.7" stroke="#000" stroke-width="2.0" stroke-dasharray="4.9 5.1"/>
<rect x="1395.9" y="1318.6" width="375.20" height="157.90" fill="#fff" stroke="#000" stroke-width="1.6"/>
<line x1="1442.0" y1="1358.0" x2="1500.4" y2="1358.0" stroke="#845ec2" stroke-width="2.6" stroke-linecap="round"/>
<line x1="1442.0" y1="1397.6" x2="1500.4" y2="1397.6" stroke="#4a98d2" stroke-width="2.6" stroke-linecap="round"/>
<text transform="translate(1513.60 1368.50) scale(1.000 1.012)" font-size="30" >36−Month (0.669)</text>
<text transform="translate(1513.60 1408.00) scale(1.000 1.012)" font-size="30" >60−Month (0.738)</text>
<rect x="1129.6" y="854.7" width="641.50" height="621.80" fill="none" stroke="#000" stroke-width="1.6"/>
<line x1="1153.30" y1="1476.50" x2="1153.30" y2="1496.70" stroke="#000" stroke-width="1.6" />
<line x1="1129.60" y1="1453.20" x2="1109.30" y2="1453.20" stroke="#000" stroke-width="1.6" />
<text transform="translate(1154.20 1525.30) scale(1.000 1.012)" font-size="30" text-anchor="middle" >0.0</text>
<text transform="translate(1082.00 1454.90) rotate(-90) scale(1.000 1.012)" font-size="30" text-anchor="middle" >0.0</text>
<line x1="1272.10" y1="1476.50" x2="1272.10" y2="1496.70" stroke="#000" stroke-width="1.6" />
<line x1="1129.60" y1="1338.04" x2="1109.30" y2="1338.04" stroke="#000" stroke-width="1.6" />
<text transform="translate(1269.70 1525.30) scale(1.000 1.012)" font-size="30" text-anchor="middle" >0.2</text>
<text transform="translate(1082.00 1339.74) rotate(-90) scale(1.000 1.012)" font-size="30" text-anchor="middle" >0.2</text>
<line x1="1390.90" y1="1476.50" x2="1390.90" y2="1496.70" stroke="#000" stroke-width="1.6" />
<line x1="1129.60" y1="1222.88" x2="1109.30" y2="1222.88" stroke="#000" stroke-width="1.6" />
<text transform="translate(1391.70 1525.30) scale(1.000 1.012)" font-size="30" text-anchor="middle" >0.4</text>
<text transform="translate(1082.00 1224.58) rotate(-90) scale(1.000 1.012)" font-size="30" text-anchor="middle" >0.4</text>
<line x1="1509.70" y1="1476.50" x2="1509.70" y2="1496.70" stroke="#000" stroke-width="1.6" />
<line x1="1129.60" y1="1107.72" x2="1109.30" y2="1107.72" stroke="#000" stroke-width="1.6" />
<text transform="translate(1509.30 1525.30) scale(1.000 1.012)" font-size="30" text-anchor="middle" >0.6</text>
<text transform="translate(1082.00 1109.42) rotate(-90) scale(1.000 1.012)" font-size="30" text-anchor="middle" >0.6</text>
<line x1="1628.50" y1="1476.50" x2="1628.50" y2="1496.70" stroke="#000" stroke-width="1.6" />
<line x1="1129.60" y1="992.56" x2="1109.30" y2="992.56" stroke="#000" stroke-width="1.6" />
<text transform="translate(1630.30 1525.30) scale(1.000 1.012)" font-size="30" text-anchor="middle" >0.8</text>
<text transform="translate(1082.00 994.26) rotate(-90) scale(1.000 1.012)" font-size="30" text-anchor="middle" >0.8</text>
<line x1="1747.30" y1="1476.50" x2="1747.30" y2="1496.70" stroke="#000" stroke-width="1.6" />
<line x1="1129.60" y1="877.40" x2="1109.30" y2="877.40" stroke="#000" stroke-width="1.6" />
<text transform="translate(1748.50 1525.30) scale(1.000 1.012)" font-size="30" text-anchor="middle" >1.0</text>
<text transform="translate(1082.00 879.10) rotate(-90) scale(1.000 1.012)" font-size="30" text-anchor="middle" >1.0</text>
<text transform="translate(1015.80 1157.70) rotate(-90) scale(1.000 1.012)" font-size="30" text-anchor="middle" >Sensitivity</text>
<text transform="translate(1443.10 1580.00) scale(1.000 1.012)" font-size="30" text-anchor="middle" >1−Specificity</text>
</g>
</svg>
</body>
</html>
